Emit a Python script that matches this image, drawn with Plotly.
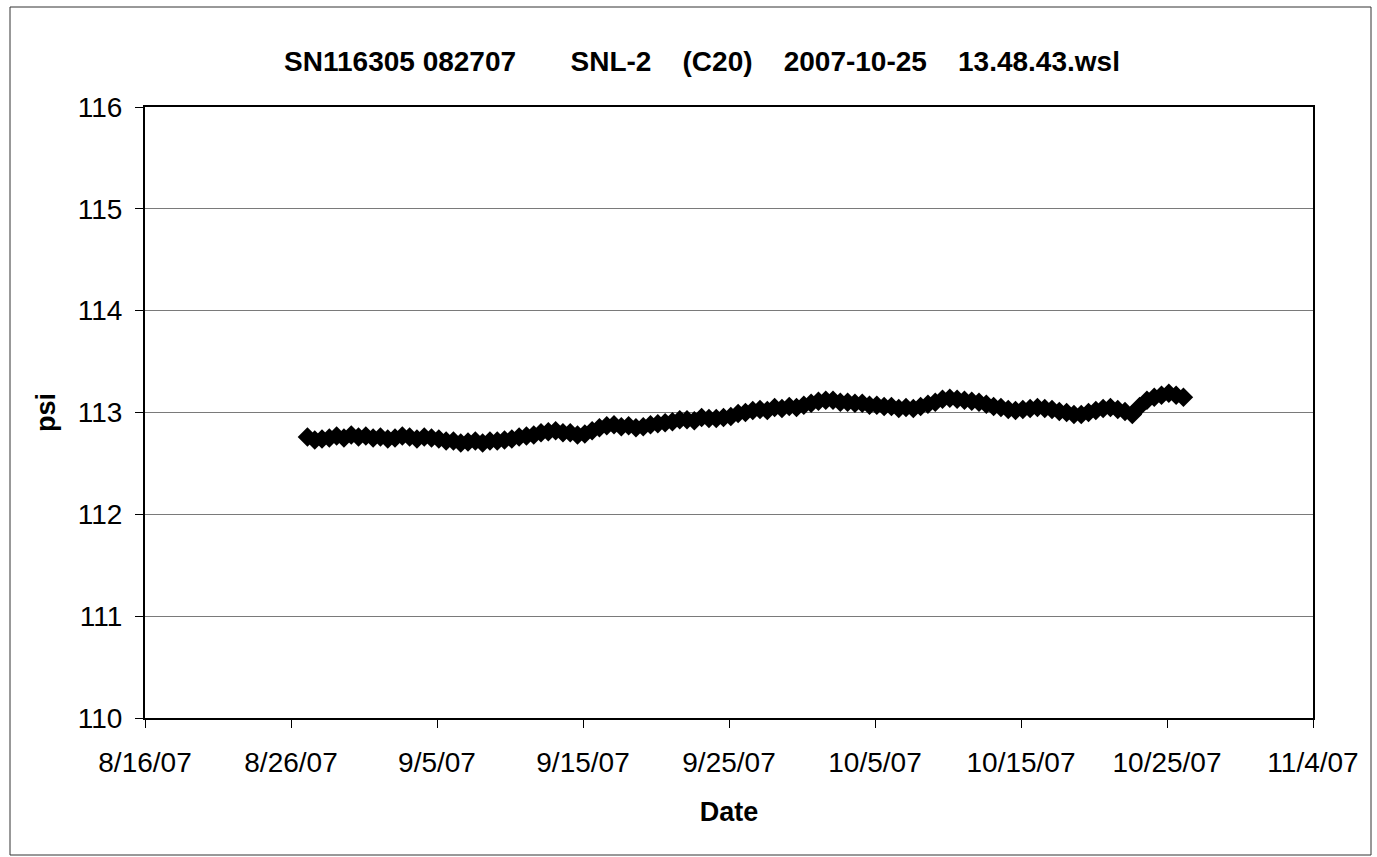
import pandas as pd
import plotly.graph_objects as go

NB = "\u00a0"
title_tokens = ["SN116305 082707", "SNL-2", "(C20)", "2007-10-25", "13.48.43.wsl"]
title_gaps = [7, 4, 4, 4]

# Readings every 12 hours starting 2007-08-27 03:00
start_time = "2007-08-27 03:00"
psi_values = [
    112.76, 112.73,  # 8/27
    112.74, 112.75,  # 8/28
    112.77, 112.75,  # 8/29
    112.78, 112.76,  # 8/30
    112.77, 112.75,  # 8/31
    112.76, 112.74,  # 9/1
    112.75, 112.77,  # 9/2
    112.76, 112.74,  # 9/3
    112.76, 112.75,  # 9/4
    112.74, 112.72,  # 9/5
    112.72, 112.70,  # 9/6
    112.71, 112.72,  # 9/7
    112.70, 112.72,  # 9/8
    112.72, 112.73,  # 9/9
    112.74, 112.76,  # 9/10
    112.77, 112.78,  # 9/11
    112.80, 112.81,  # 9/12
    112.82, 112.80,  # 9/13
    112.80, 112.78,  # 9/14
    112.79, 112.82,  # 9/15
    112.85, 112.87,  # 9/16
    112.88, 112.86,  # 9/17
    112.87, 112.85,  # 9/18
    112.86, 112.88,  # 9/19
    112.89, 112.90,  # 9/20
    112.91, 112.93,  # 9/21
    112.93, 112.92,  # 9/22
    112.95, 112.94,  # 9/23
    112.94, 112.95,  # 9/24
    112.96, 112.99,  # 9/25
    113.00, 113.02,  # 9/26
    113.03, 113.02,  # 9/27
    113.05, 113.04,  # 9/28
    113.06, 113.05,  # 9/29
    113.07, 113.09,  # 9/30
    113.11, 113.12,  # 10/1
    113.12, 113.10,  # 10/2
    113.10, 113.09,  # 10/3
    113.09, 113.07,  # 10/4
    113.07, 113.06,  # 10/5
    113.06, 113.04,  # 10/6
    113.05, 113.04,  # 10/7
    113.06, 113.08,  # 10/8
    113.10, 113.13,  # 10/9
    113.14, 113.13,  # 10/10
    113.12, 113.11,  # 10/11
    113.10, 113.08,  # 10/12
    113.06, 113.05,  # 10/13
    113.03, 113.02,  # 10/14
    113.03, 113.04,  # 10/15
    113.05, 113.04,  # 10/16
    113.03, 113.01,  # 10/17
    113.00, 112.98,  # 10/18
    112.98, 113.00,  # 10/19
    113.02, 113.04,  # 10/20
    113.05, 113.03,  # 10/21
    113.01, 112.98,  # 10/22
    113.06, 113.12,  # 10/23
    113.15, 113.17,  # 10/24
    113.19, 113.17,  # 10/25
    113.15,          # 10/26
]
timestamps = pd.date_range(start=start_time, periods=len(psi_values), freq="12h")

x_tick_dates = ["2007-08-16", "2007-08-26", "2007-09-05", "2007-09-15", "2007-09-25",
                "2007-10-05", "2007-10-15", "2007-10-25", "2007-11-04"]
x_tick_labels = ["8/16/07", "8/26/07", "9/5/07", "9/15/07", "9/25/07",
                 "10/5/07", "10/15/07", "10/25/07", "11/4/07"]
y_ticks = [110, 111, 112, 113, 114, 115, 116]

FONT = "Liberation Sans, Arial, sans-serif"

title_text = title_tokens[0]
for gap, tok in zip(title_gaps, title_tokens[1:]):
    title_text += NB * gap + tok

fig = go.Figure()
fig.add_trace(go.Scatter(
    x=timestamps, y=psi_values, mode="lines+markers",
    line=dict(color="black", width=6),
    marker=dict(symbol="diamond", size=15, color="black"),
    showlegend=False,
))

fig.update_layout(
    width=1377, height=857,
    margin=dict(l=145, r=64, t=107, b=139),
    paper_bgcolor="white", plot_bgcolor="white",
    font=dict(family=FONT, color="black", size=28),
    title=dict(text="<b>" + title_text + "</b>", x=702 / 1377, xanchor="center",
               y=1 - 61 / 857, yanchor="middle", font=dict(size=28, family=FONT)),
    xaxis=dict(
        type="date", range=["2007-08-16", "2007-11-04"],
        tickmode="array", tickvals=x_tick_dates, ticktext=x_tick_labels,
        ticks="outside", ticklen=8, tickwidth=1, tickcolor="black",
        ticklabelstandoff=10,
        showline=True, linecolor="black", linewidth=2, mirror=True,
        showgrid=False, zeroline=False,
        tickfont=dict(size=28),
        title=dict(text="<b>Date</b>", font=dict(size=27), standoff=26),
    ),
    yaxis=dict(
        range=[110, 116], tickmode="array", tickvals=y_ticks,
        ticks="outside", ticklen=8, tickwidth=1, tickcolor="black",
        ticklabelstandoff=7,
        showline=True, linecolor="black", linewidth=2, mirror=True,
        showgrid=True, gridcolor="#7a7a7a", gridwidth=1, zeroline=False,
        tickfont=dict(size=28),
        title=dict(text="<b>psi</b>", font=dict(size=27), standoff=14),
    ),
)

# Outer chart-area border
fig.add_shape(type="rect", xref="paper", yref="paper",
              x0=(10 - 145) / 1168, x1=(1371 - 145) / 1168,
              y0=(718 - 855) / 611, y1=(718 - 7) / 611,
              line=dict(color="#333333", width=1), layer="below")

fig.write_html("out.html", config={"displayModeBar": False},
               post_script="document.body.style.margin='0';")
